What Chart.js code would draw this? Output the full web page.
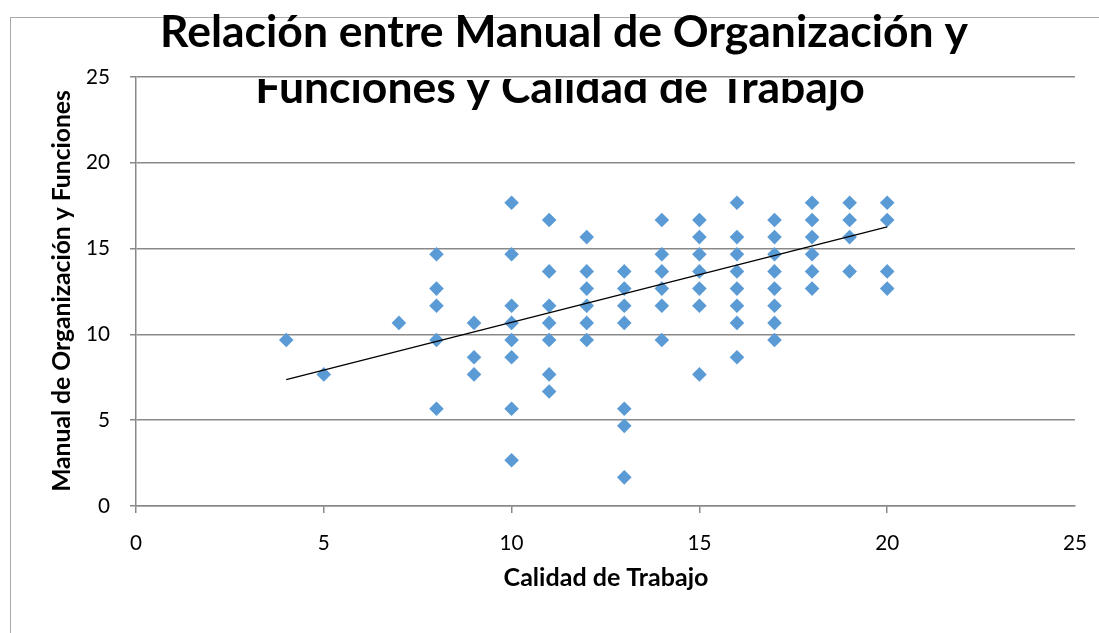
<!DOCTYPE html>
<html><head><meta charset="utf-8">
<script src="https://cdn.jsdelivr.net/npm/chart.js@4.4.0/dist/chart.umd.min.js"></script>
<style>html,body{margin:0;padding:0;background:#fff;overflow:hidden}#wrap{width:1099px;height:633px;position:relative}</style>
</head><body><div id="wrap"><canvas id="c" width="1099" height="633"></canvas></div>
<script>
const titleLines = ['Relación entre Manual de Organización y', 'Funciones y Calidad de Trabajo'];
const xAxisTitle = 'Calidad de Trabajo';
const yAxisTitle = 'Manual de Organización y Funciones';
const calidad = [
  4,
  5,
  7,
  8, 8, 8, 8, 8,
  9, 9, 9,
  10, 10, 10, 10, 10, 10, 10, 10,
  11, 11, 11, 11, 11, 11, 11,
  12, 12, 12, 12, 12, 12,
  13, 13, 13, 13, 13, 13, 13,
  14, 14, 14, 14, 14, 14,
  15, 15, 15, 15, 15, 15, 15,
  16, 16, 16, 16, 16, 16, 16, 16,
  17, 17, 17, 17, 17, 17, 17, 17,
  18, 18, 18, 18, 18, 18,
  19, 19, 19, 19,
  20, 20, 20, 20
];
const manual = [
  9.67,
  7.67,
  10.67,
  14.67, 12.67, 11.67, 9.67, 5.67,
  10.67, 8.67, 7.67,
  17.67, 14.67, 11.67, 10.67, 9.67, 8.67, 5.67, 2.67,
  16.67, 13.67, 11.67, 10.67, 9.67, 7.67, 6.67,
  15.67, 13.67, 12.67, 11.67, 10.67, 9.67,
  13.67, 12.67, 11.67, 10.67, 5.67, 4.67, 1.67,
  16.67, 14.67, 13.67, 12.67, 11.67, 9.67,
  16.67, 15.67, 14.67, 13.67, 12.67, 11.67, 7.67,
  17.67, 15.67, 14.67, 13.67, 12.67, 11.67, 10.67, 8.67,
  16.67, 15.67, 14.67, 13.67, 12.67, 11.67, 10.67, 9.67,
  17.67, 16.67, 15.67, 14.67, 13.67, 12.67,
  17.67, 16.67, 15.67, 13.67,
  17.67, 16.67, 13.67, 12.67
];
const trendX = [4, 20];
const trendY = [7.37, 16.26];
const axisMin = 0, axisMax = 25, axisStep = 5;

const FAMILY = 'Lato, Carlito, "Open Sans", sans-serif';
const mctx = document.createElement('canvas').getContext('2d');
function fitSize(text, weight, target) {
  mctx.font = weight + ' 100px ' + FAMILY;
  return 100 * target / mctx.measureText(text).width;
}
const titleSize = fitSize(titleLines[0], 'bold', 808);
const xTitleSize = fitSize(xAxisTitle, 'bold', 205);
const yTitleSize = fitSize(yAxisTitle, 'bold', 402);
const tickSize = fitSize('25', 'normal', 24);

const points = calidad.map((x, i) => ({x: x, y: manual[i]}));
const trend = trendX.map((x, i) => ({x: x, y: trendY[i]}));

const GRID = '#898989';

const decor = {
  id: 'decor',
  beforeDraw(chart) {
    const c = chart.ctx;
    c.save();
    c.fillStyle = '#fff';
    c.fillRect(0, 0, chart.width, chart.height);
    c.strokeStyle = '#a8a8a8';
    c.lineWidth = 1;
    c.strokeRect(10.5, 17.5, chart.width + 20, chart.height + 20);
    c.restore();
  },
  afterDraw(chart) {
    const c = chart.ctx;
    const a = chart.chartArea;
    c.save();
    c.fillStyle = '#000';
    c.textAlign = 'center';
    c.textBaseline = 'alphabetic';
    c.font = 'bold ' + titleSize + 'px ' + FAMILY;
    c.fillText(titleLines[0], 564, 47);
    c.save();
    c.beginPath();
    c.rect(0, a.top + 2, chart.width, chart.height);
    c.clip();
    c.fillText(titleLines[1], 560, 103);
    c.restore();
    c.font = 'bold ' + xTitleSize + 'px ' + FAMILY;
    c.textBaseline = 'alphabetic';
    c.fillText(xAxisTitle, 606, 586);
    c.translate(62, 291);
    c.rotate(-Math.PI / 2);
    c.textBaseline = 'middle';
    c.font = 'bold ' + yTitleSize + 'px ' + FAMILY;
    c.fillText(yAxisTitle, 0, 0);
    c.restore();
  }
};

new Chart(document.getElementById('c'), {
  type: 'scatter',
  data: {
    datasets: [
      {
        label: 'Tendencia',
        type: 'line',
        data: trend,
        borderColor: '#000',
        borderWidth: 1.3,
        pointRadius: 0,
        fill: false,
        order: 0
      },
      {
        label: 'Datos',
        data: points,
        pointStyle: 'rectRot',
        pointRadius: 7.3,
        pointHoverRadius: 7.3,
        borderWidth: 0,
        backgroundColor: '#5b9bd5',
        borderColor: '#5b9bd5',
        order: 1
      }
    ]
  },
  options: {
    responsive: false,
    animation: false,
    events: [],
    layout: {padding: {top: 77, right: 24, left: 0, bottom: 0}},
    plugins: {legend: {display: false}, title: {display: false}, tooltip: {enabled: false}},
    scales: {
      x: {
        type: 'linear', min: axisMin, max: axisMax,
        afterFit(s) { s.height = 127; s.paddingLeft = 0; s.paddingRight = 0; },
        ticks: {stepSize: axisStep, color: '#000', padding: 18, maxRotation: 0, minRotation: 0, autoSkip: false,
                font: {family: FAMILY, size: tickSize}},
        grid: {drawOnChartArea: false, drawTicks: true, tickLength: 7,
               color: (ctx) => (ctx.tick && ctx.tick.value === axisMax) ? 'rgba(0,0,0,0)' : GRID, lineWidth: 1.5},
        border: {display: true, color: GRID, width: 1.5}
      },
      y: {
        type: 'linear', min: axisMin, max: axisMax,
        afterFit(s) { s.width = 136; },
        ticks: {stepSize: axisStep, color: '#000', padding: 20, font: {family: FAMILY, size: tickSize}},
        grid: {drawTicks: true, tickLength: 6, color: GRID, lineWidth: 1.5},
        border: {display: true, color: GRID, width: 1.5}
      }
    }
  },
  plugins: [decor]
});
</script>
</body></html>
